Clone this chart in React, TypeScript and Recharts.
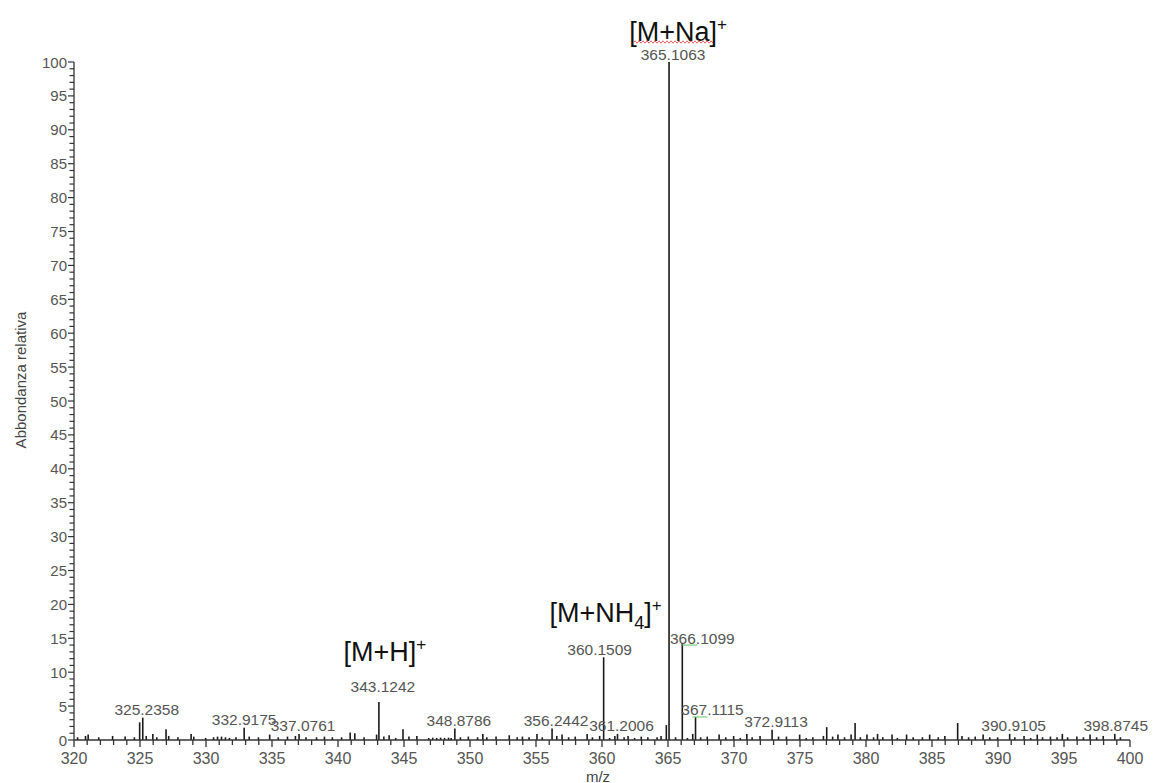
import { BarChart, Bar, XAxis, YAxis, LabelList } from "recharts";

// peak list (m/z, relative abundance %)
const peakMz = [
  320.3, 320.9, 321.1, 321.9, 322.95, 323.9, 324.6, 325.0, 325.2358, 325.5,
  326.0, 326.3, 327.0, 327.2, 327.9, 328.9, 329.1, 330.0, 330.6, 330.9,
  331.2, 331.5, 331.8, 332.3, 332.9175, 333.3, 334.0, 334.85, 335.5, 336.2,
  336.8, 337.0761, 337.6, 338.4, 339.0, 339.6, 340.3, 340.95, 341.3, 342.0,
  342.95, 343.1242, 343.5, 343.9, 344.4, 344.95, 345.4, 346.0, 346.9, 347.2,
  347.5, 347.8, 348.1, 348.4, 348.6, 348.8786, 349.3, 349.9, 350.6, 351.0,
  351.3, 352.0, 353.0, 353.6, 354.0, 354.5, 355.1, 355.5, 356.2442, 356.6,
  357.0, 357.5, 358.0, 358.9, 359.3, 359.85, 360.1509, 360.6, 361.0, 361.2006,
  361.7, 362.0, 362.5, 363.0, 363.5, 364.2, 364.5, 364.9, 365.1063, 365.6,
  366.1099, 366.5, 366.9, 367.1115, 367.5, 368.0, 368.9, 369.4, 370.0, 370.5,
  371.0, 371.4, 372.0, 372.9113, 373.4, 374.0, 375.0, 375.5, 376.0, 376.8,
  377.05, 377.5, 377.9, 378.4, 378.9, 379.2, 379.6, 380.1, 380.6, 380.9,
  381.3, 382.0, 382.4, 383.1, 383.6, 384.3, 384.85, 385.5, 386.0, 386.97,
  387.3, 387.8, 388.3, 388.9, 389.4, 390.0, 390.9105, 391.3, 392.0, 392.5,
  393.0, 393.4, 394.0, 394.5, 394.9, 395.3, 396.0, 396.5, 397.0, 397.5,
  398.0, 398.8745, 399.3,
];
const peakIntensity = [
  0.4, 0.6, 0.8, 0.4, 0.6, 0.5, 0.4, 2.6, 3.3, 0.6,
  0.9, 0.4, 1.6, 0.6, 0.4, 0.9, 0.5, 0.3, 0.4, 0.5,
  0.5, 0.4, 0.3, 0.4, 1.8, 0.5, 0.4, 0.8, 0.4, 0.5,
  0.6, 0.9, 0.4, 0.4, 0.5, 0.4, 0.4, 1.1, 1.0, 0.4,
  0.8, 5.6, 0.5, 0.7, 0.3, 1.6, 0.5, 0.6, 0.3, 0.35,
  0.3, 0.35, 0.3, 0.35, 0.3, 1.7, 0.4, 0.5, 0.4, 0.9,
  0.4, 0.5, 0.7, 0.4, 0.5, 0.4, 0.9, 0.4, 1.7, 0.6,
  0.8, 0.4, 0.5, 0.9, 0.4, 0.6, 12.2, 0.3, 0.6, 0.9,
  0.4, 0.6, 0.3, 0.5, 0.4, 0.4, 0.6, 2.2, 100, 0.4,
  14.3, 0.3, 0.9, 3.4, 0.4, 0.5, 0.8, 0.4, 0.6, 0.3,
  0.9, 0.4, 0.6, 1.5, 0.5, 0.5, 0.8, 0.3, 0.4, 0.6,
  1.9, 0.5, 0.8, 0.4, 0.8, 2.5, 0.4, 0.8, 0.4, 0.9,
  0.4, 0.8, 0.3, 0.8, 0.4, 0.4, 0.8, 0.4, 0.6, 2.5,
  0.6, 0.4, 0.5, 0.8, 0.4, 0.4, 0.9, 0.4, 0.6, 0.3,
  0.8, 0.4, 0.5, 0.4, 0.9, 0.4, 0.5, 0.4, 0.8, 0.4,
  0.6, 0.9, 0.4,
];

const labelledMz = [
  325.2358, 332.9175, 337.0761, 343.1242, 348.8786, 356.2442, 360.1509,
  361.2006, 365.1063, 366.1099, 367.1115, 372.9113, 390.9105, 398.8745,
];
const ionMz = [343.1242, 360.1509, 365.1063];
const ionNames = ["[M+H]", "[M+NH4]", "[M+Na]"];

const xTickLabels = [320, 325, 330, 335, 340, 345, 350, 355, 360, 365, 370, 375, 380, 385, 390, 395, 400];
const yTickLabels = [0, 5, 10, 15, 20, 25, 30, 35, 40, 45, 50, 55, 60, 65, 70, 75, 80, 85, 90, 95, 100];

const data = peakMz.map((mz, i) => ({ mz, intensity: peakIntensity[i] }));

// minor ticks every unit between the labelled ones
const xTicks: number[] = [];
for (let v = xTickLabels[0]; v <= xTickLabels[xTickLabels.length - 1]; v++) xTicks.push(v);
const yTicks: number[] = [];
for (let v = yTickLabels[0]; v <= yTickLabels[yTickLabels.length - 1]; v++) yTicks.push(v);

const FONT = '"Liberation Sans", Arial, sans-serif';
const AXIS = "#333";
const GREY = "#555";

// small hand nudges so labels sit where the instrument software put them
const labelNudge: Record<number, { dx?: number; dy?: number }> = {
  332.9175: { dx: 0 },
  343.1242: { dy: -8 },
  360.1509: { dx: -4 },
  366.1099: { dx: 20, dy: 3 },
  367.1115: { dx: 17, dy: 1 },
  398.8745: { dx: 1 },
};
const ionOffset: Record<number, { dx: number; dy: number }> = {
  343.1242: { dx: 6, dy: -50 },
  360.1509: { dx: 2, dy: -44 },
  365.1063: { dx: 9, dy: -30 },
};

const XTick = ({ x, y, payload }: any) => {
  const v = payload.value;
  const major = xTickLabels.includes(v);
  return (
    <g>
      <line x1={x} x2={x} y1={y} y2={y + (major ? 7 : 5)} stroke={AXIS} strokeWidth={1.3} />
      {major && (
        <text x={x} y={y + 18} textAnchor="middle" dominantBaseline="central" fontSize={16} fill={GREY} fontFamily={FONT}>
          {v}
        </text>
      )}
    </g>
  );
};

const YTick = ({ x, y, payload }: any) => {
  const v = payload.value;
  const major = yTickLabels.includes(v);
  return (
    <g>
      <line x1={x - (major ? 6 : 4.5)} x2={x} y1={y} y2={y} stroke={AXIS} strokeWidth={1.2} />
      {major && (
        <text x={x - 7} y={y} textAnchor="end" dominantBaseline="central" fontSize={15} fill={GREY} fontFamily={FONT}>
          {v}
        </text>
      )}
    </g>
  );
};

const barBox = (props: any) => {
  const vb = props.viewBox && props.viewBox.width !== undefined ? props.viewBox : props;
  return { cx: vb.x + vb.width / 2, top: vb.y };
};

const PeakLabel = (props: any) => {
  const mz = Number(props.value);
  if (!labelledMz.includes(mz)) return null;
  const { cx, top } = barBox(props);
  const n = labelNudge[mz] || {};
  const lx = cx + (n.dx ?? 4);
  const ly = top - 8 + (n.dy ?? 0);
  return (
    <g>
      <text x={lx} y={ly} textAnchor="middle" dominantBaseline="central" fontSize={15.5} fill={GREY} fontFamily={FONT}>
        {mz.toFixed(4)}
      </text>
      {(mz === 366.1099 || mz === 367.1115) && (
        <line x1={lx - 20} x2={lx - 5} y1={ly + 7} y2={ly + 7} stroke="#7ccf7c" strokeWidth={1.2} />
      )}
    </g>
  );
};

const IonLabel = (props: any) => {
  const mz = Number(props.value);
  const k = ionMz.indexOf(mz);
  if (k < 0) return null;
  const { cx, top } = barBox(props);
  const off = ionOffset[mz];
  const x = cx + off.dx;
  const y = top + off.dy + 9;
  const name = ionNames[k];
  const m = name.match(/^(.*?)(\d+)\](.*)$/);
  let squiggle = "";
  if (mz === 365.1063) {
    const pts: string[] = [];
    for (let i = 0; i <= 40; i++) pts.push(`${x - 45 + i * 2},${y + 1 + (i % 2 ? -1.2 : 1.2)}`);
    squiggle = pts.join(" ");
  }
  return (
    <g>
      <text x={x} y={y} textAnchor="middle" fontSize={27} fill="#111" fontFamily={FONT}>
        {m ? (
          <>
            {m[1]}
            <tspan fontSize={18} dy={7}>{m[2]}</tspan>
            <tspan dy={-7}>]</tspan>
          </>
        ) : (
          name
        )}
        <tspan fontSize={17} dy={-11}>+</tspan>
      </text>
      {squiggle && <polyline points={squiggle} fill="none" stroke="#e05050" strokeWidth={0.9} />}
    </g>
  );
};

export default function App() {
  return (
    <div style={{ position: "absolute", left: 0, top: 0, width: 1156, height: 783, background: "#fff" }}>
      <BarChart width={1156} height={783} data={data} margin={{ top: 62, right: 26, bottom: 0, left: 0 }}>
        <XAxis
          dataKey="mz"
          type="number"
          domain={[320, 400]}
          ticks={xTicks}
          interval={0}
          allowDataOverflow
          height={43}
          tickSize={0}
          tickMargin={0}
          tickLine={false}
          axisLine={{ stroke: AXIS, strokeWidth: 1.3 }}
          tick={<XTick />}
          label={(p: any) => {
            const vb = p.viewBox;
            return (
              <text x={vb.x + vb.width / 2 - 4} y={vb.y + 36} textAnchor="middle" dominantBaseline="central" fontSize={15} fill="#444" fontFamily={FONT}>
                m/z
              </text>
            );
          }}
        />
        <YAxis
          type="number"
          domain={[0, 100]}
          ticks={yTicks}
          interval={0}
          allowDataOverflow
          width={74}
          tickSize={0}
          tickMargin={0}
          tickLine={false}
          axisLine={{ stroke: AXIS, strokeWidth: 1.3 }}
          tick={<YTick />}
          label={(p: any) => {
            const vb = p.viewBox;
            const x = vb.x + 20;
            const y = vb.y + 318;
            return (
              <text x={x} y={y} transform={`rotate(-90 ${x} ${y})`} textAnchor="middle" dominantBaseline="central" fontSize={15} fill="#444" fontFamily={FONT}>
                Abbondanza relativa
              </text>
            );
          }}
        />
        <Bar dataKey="intensity" fill="#1a1a1a" barSize={1.6} isAnimationActive={false}>
          <LabelList dataKey="mz" content={<PeakLabel />} />
          <LabelList dataKey="mz" content={<IonLabel />} />
        </Bar>
      </BarChart>
    </div>
  );
}
